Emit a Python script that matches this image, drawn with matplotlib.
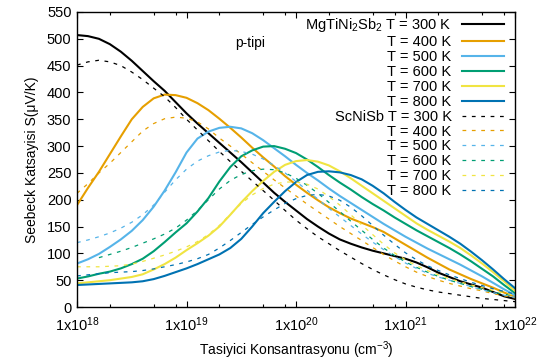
import numpy as np
import matplotlib
matplotlib.use("Agg")
import matplotlib.pyplot as plt
from matplotlib.ticker import FixedLocator, NullFormatter

plt.rcParams['font.family'] = ['Liberation Sans', 'DejaVu Sans']
plt.rcParams['mathtext.fontset'] = 'custom'
plt.rcParams['mathtext.rm'] = 'Liberation Sans'
plt.rcParams['mathtext.it'] = 'Liberation Sans'

# ---- data: log10 of carrier concentration (cm^-3) and Seebeck coefficient (uV/K) ----
temps = [300, 400, 500, 600, 700, 800]
colors = ['#000000', '#E69F00', '#56B4E9', '#009E73', '#F0E442', '#0072B2']

log_n = [18.0, 18.1, 18.2, 18.3, 18.4, 18.5, 18.6, 18.7, 18.8, 18.9,
         19.0, 19.1, 19.2, 19.3, 19.4, 19.5, 19.6, 19.7, 19.8, 19.9,
         20.0, 20.1, 20.2, 20.3, 20.4, 20.5, 20.6, 20.7, 20.8, 20.9,
         21.0, 21.1, 21.2, 21.3, 21.4, 21.5, 21.6, 21.7, 21.8, 21.9, 22.0]
log_n_sc600 = log_n[2:]

# MgTiNi2Sb2 (solid)
mg_300 = [507, 505, 500, 490, 476, 459, 440, 421, 403, 382,
          361, 342, 324, 306, 288, 270, 251, 232, 213, 196,
          180, 164, 150, 137, 126, 118, 111, 105, 100, 95,
          90, 83, 74, 64, 56, 48, 42, 36, 28, 20, 15]
mg_400 = [190, 222, 252, 285, 318, 350, 373, 389, 396, 395,
          390, 380, 367, 351, 334, 316, 297, 279, 262, 244,
          228, 213, 199, 186, 175, 165, 157, 149, 140, 128,
          116, 104, 92, 81, 70, 61, 52, 44, 36, 27, 19]
mg_500 = [81, 89, 99, 112, 126, 142, 162, 187, 217, 251,
          288, 314, 327, 334, 336, 333, 324, 311, 296, 281,
          265, 250, 236, 221, 207, 194, 181, 168, 155, 143,
          131, 120, 109, 99, 89, 79, 68, 57, 45, 33, 22]
mg_600 = [53, 57, 62, 66, 72, 80, 90, 104, 121, 139,
          156, 178, 203, 234, 261, 281, 292, 299, 300, 295,
          287, 275, 261, 246, 232, 219, 205, 192, 180, 167,
          155, 143, 132, 121, 110, 98, 85, 71, 57, 41, 26]
mg_700 = [44, 46, 48, 50, 53, 56, 61, 70, 80, 92,
          106, 119, 133, 150, 172, 195, 216, 235, 252, 265,
          272, 274, 271, 264, 253, 240, 226, 212, 198, 184,
          170, 156, 144, 133, 122, 110, 96, 81, 65, 48, 30]
mg_800 = [41, 42, 43, 44, 45, 46, 48, 52, 58, 65,
          72, 80, 89, 98, 110, 127, 150, 175, 196, 216,
          233, 246, 252, 253, 251, 246, 238, 226, 212, 196,
          181, 167, 155, 143, 131, 118, 103, 87, 70, 52, 35]

# ScNiSb (dashed)
sc_300 = [451, 457, 460, 457, 450, 438, 424, 408, 392, 372,
          350, 330, 310, 290, 271, 253, 235, 217, 199, 180,
          162, 146, 131, 118, 105, 93, 81, 70, 60, 51,
          43, 37, 32, 28, 25, 22, 19, 16, 14, 12, 10]
sc_400 = [212, 230, 250, 268, 288, 308, 328, 342, 351, 354,
          352, 345, 332, 315, 300, 285, 269, 253, 237, 222,
          207, 192, 178, 164, 150, 137, 124, 111, 98, 86,
          75, 65, 57, 50, 44, 39, 34, 30, 25, 21, 17]
sc_500 = [120, 125, 131, 138, 147, 158, 172, 190, 214, 237,
          257, 272, 282, 289, 292, 290, 285, 276, 264, 250,
          234, 218, 201, 184, 168, 152, 136, 121, 107, 94,
          82, 72, 63, 56, 50, 44, 38, 32, 27, 22, 18]
sc_600 = [92, 98, 104, 111, 119, 127, 136, 147,
          162, 180, 200, 220, 236, 247, 254, 257, 256, 250,
          240, 227, 212, 195, 178, 160, 143, 126, 110, 96,
          84, 74, 65, 57, 50, 44, 38, 33, 28, 24, 20]
sc_700 = [75, 75, 75, 76, 77, 80, 85, 91, 97, 104,
          112, 122, 135, 152, 173, 193, 209, 221, 229, 233,
          233, 229, 220, 206, 190, 172, 153, 135, 117, 101,
          88, 77, 68, 60, 53, 47, 41, 36, 31, 26, 22]
sc_800 = [58, 60, 62, 64, 65, 66, 68, 71, 75, 79,
          84, 90, 98, 110, 124, 139, 154, 168, 181, 193,
          202, 208, 210, 207, 199, 186, 170, 152, 134, 117,
          101, 88, 77, 68, 60, 53, 46, 40, 34, 29, 24]

mg_series = [(log_n, mg_300), (log_n, mg_400), (log_n, mg_500),
             (log_n, mg_600), (log_n, mg_700), (log_n, mg_800)]
sc_series = [(log_n, sc_300), (log_n, sc_400), (log_n, sc_500),
             (log_n_sc600, sc_600), (log_n, sc_700), (log_n, sc_800)]

y_ticks = list(range(0, 551, 50))
x_ticks_exp = [18, 19, 20, 21, 22]

fig = plt.figure(figsize=(5.39, 3.6), dpi=100)
ax = fig.add_axes([0.1429, 0.1472, 0.9555 - 0.1429, 0.9667 - 0.1472])

handles = []
labels = []
for i, (xs, ys) in enumerate(mg_series):
    ln, = ax.plot(10.0 ** np.array(xs), ys, color=colors[i], lw=1.5,
                  solid_joinstyle='round')
    handles.append(ln)
    lab = 'T = %d K' % temps[i]
    if i == 0:
        lab = 'MgTiNi$_2$Sb$_2$ ' + lab
    labels.append(lab)
for i, (xs, ys) in enumerate(sc_series):
    ln, = ax.plot(10.0 ** np.array(xs), ys, color=colors[i], lw=0.9, dashes=(3, 4.5))
    handles.append(ln)
    lab = 'T = %d K' % temps[i]
    if i == 0:
        lab = 'ScNiSb ' + lab
    labels.append(lab)

ax.set_xscale('log')
ax.set_xlim(1e18, 1e22)
ax.set_ylim(0, 550)
ax.set_yticks(y_ticks)
ax.set_xticks([10.0 ** e for e in x_ticks_exp])
ax.set_xticklabels(['1x10$^{%d}$' % e for e in x_ticks_exp])
minors = [m * 10.0 ** e for e in range(18, 22) for m in (2, 5, 8)]
ax.xaxis.set_minor_locator(FixedLocator(minors))
ax.xaxis.set_minor_formatter(NullFormatter())
ax.tick_params(axis='both', which='major', direction='in', length=4.5, width=0.8,
               top=True, right=True, labelsize=10.5)
ax.tick_params(axis='x', which='major', pad=6)
ax.tick_params(axis='y', which='major', pad=4)
ax.tick_params(axis='x', which='minor', direction='in', length=2.5, width=0.8, top=True)
ax.tick_params(axis='y', which='minor', left=False, right=False)
for s in ax.spines.values():
    s.set_linewidth(1.0)

ax.set_ylabel('Seebeck Katsayisi S(\u03bcV/K)', fontsize=10, labelpad=6)
ax.set_xlabel('Tasiyici Konsantrasyonu (cm$^{-3}$)', fontsize=10, labelpad=4)

ax.text(0.395, 0.895, 'p-tipi', transform=ax.transAxes, fontsize=10,
        ha='center', va='center')

leg = ax.legend(handles, labels, loc='upper right', bbox_to_anchor=(0.975, 0.985),
                markerfirst=False, frameon=False, fontsize=10.5, handlelength=2.9,
                handletextpad=0.7, labelspacing=0.06, borderpad=0.0, borderaxespad=0.0)
for col in leg._legend_handle_box.get_children():
    col.align = 'right'

fig.savefig('out.png', dpi=100)
